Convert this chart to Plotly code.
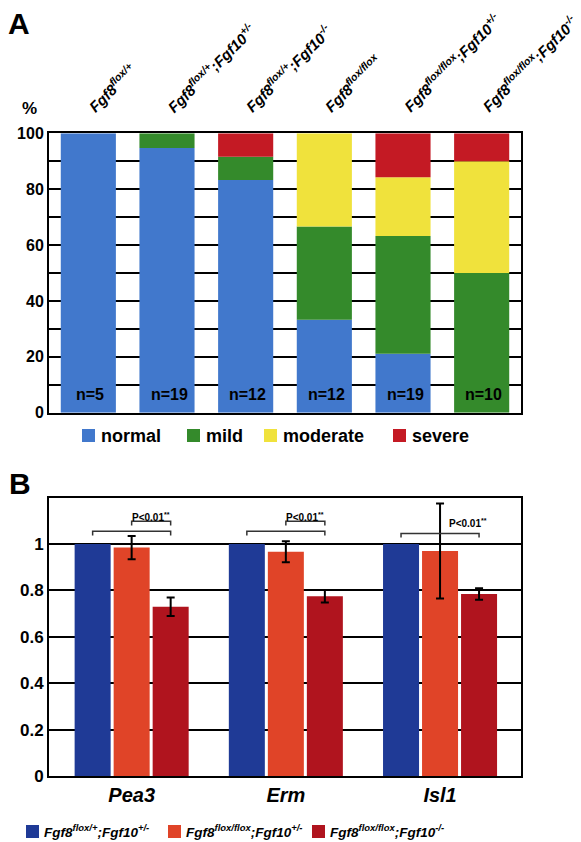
import numpy as np
import plotly.graph_objects as go

# ---------------- Panel A data ----------------
genotypes = [
    "Fgf8<sup>flox/+</sup>",
    "Fgf8<sup>flox/+</sup>;Fgf10<sup>+/-</sup>",
    "Fgf8<sup>flox/+</sup>;Fgf10<sup>-/-</sup>",
    "Fgf8<sup>flox/flox</sup>",
    "Fgf8<sup>flox/flox</sup>;Fgf10<sup>+/-</sup>",
    "Fgf8<sup>flox/flox</sup>;Fgf10<sup>-/-</sup>",
]
n_counts = [5, 19, 12, 12, 19, 10]
severity_names = ["normal", "mild", "moderate", "severe"]
normal = [100, 94.7, 83.3, 33.3, 21.1, 0]
mild = [0, 5.3, 8.3, 33.3, 42.1, 50]
moderate = [0, 0, 0, 33.4, 21.1, 40]
severe = [0, 0, 8.4, 0, 15.7, 10]
a_ticks = [0, 20, 40, 60, 80, 100]

# ---------------- Panel B data ----------------
genes = ["Pea3", "Erm", "Isl1"]
b_series = [
    "Fgf8<sup>flox/+</sup>;Fgf10<sup>+/-</sup>",
    "Fgf8<sup>flox/flox</sup>;Fgf10<sup>+/-</sup>",
    "Fgf8<sup>flox/flox</sup>;Fgf10<sup>-/-</sup>",
]
ctrl = [1.0, 1.0, 1.0]
het = [0.985, 0.967, 0.97]
het_err = [0.05, 0.045, 0.205]
ko = [0.73, 0.775, 0.785]
ko_err = [0.04, 0.027, 0.025]
b_ticks = [0, 0.2, 0.4, 0.6, 0.8, 1.0]
b_ticktext = ["0", "0.2", "0.4", "0.6", "0.8", "1"]
pval_text = "P<0.01<sup>**</sup>"

# ---------------- styles ----------------
FONT = "Liberation Sans, Arial, sans-serif"
PAGE_W, PAGE_H = 581, 842
OFF = 8  # default body margin of the html page
W, H = PAGE_W - OFF, PAGE_H - OFF
a_colors = ["#4178cc", "#348a2b", "#f0e23c", "#c41a24"]
b_colors = ["#1f3a96", "#e04428", "#b0141e"]

def px_x(p):
    return (p - OFF) / W

def px_y(p):
    return 1 - (p - OFF) / H

fig = go.Figure()

# Panel A stacked bars (stacking via cumulative base)
a_values = [normal, mild, moderate, severe]
base = np.zeros(len(genotypes))
for name, vals, col in zip(severity_names, a_values, a_colors):
    fig.add_trace(go.Bar(
        x=genotypes, y=vals, base=base.copy(), name=name,
        marker=dict(color=col, line=dict(width=0)),
        offsetgroup="A", xaxis="x", yaxis="y", showlegend=False,
    ))
    base = base + np.array(vals)

# Panel B grouped bars
b_vals = [ctrl, het, ko]
b_errs = [None, het_err, ko_err]
gx = list(range(len(genes)))
for name, vals, err, col, og in zip(b_series, b_vals, b_errs, b_colors, ["1", "2", "3"]):
    fig.add_trace(go.Bar(
        x=gx, y=vals, name=name,
        marker=dict(color=col, line=dict(width=0)),
        error_y=dict(type="data", array=err, visible=err is not None,
                     color="black", thickness=2, width=4),
        offsetgroup=og, xaxis="x2", yaxis="y2", showlegend=False,
    ))

bargap = 0.241
bargroupgap = 0.077
slot = (1 - bargap) / 3

x_dom = [px_x(49), px_x(521)]
fig.update_layout(
    width=W, height=H,
    margin=dict(l=0, r=0, t=0, b=0, autoexpand=False),
    paper_bgcolor="white", plot_bgcolor="white",
    barmode="group", bargap=bargap, bargroupgap=bargroupgap,
    font=dict(family=FONT, color="black"),
    xaxis=dict(domain=x_dom, anchor="y", showticklabels=False, showgrid=False,
               showline=True, mirror=True, linecolor="black", linewidth=2,
               range=[-0.5, 5.5], automargin=False),
    yaxis=dict(domain=[px_y(412.7), px_y(133.3)], anchor="x", range=[0, 100],
               tickmode="array", tickvals=a_ticks,
               tickfont=dict(size=16, weight="bold", family=FONT),
               showgrid=True, gridcolor="black", gridwidth=2,
               minor=dict(dtick=10, tick0=0, showgrid=True, gridcolor="black", gridwidth=2),
               showline=True, mirror=True, linecolor="black", linewidth=2,
               zeroline=False, ticks="", automargin=False),
    xaxis2=dict(domain=x_dom, anchor="y2", range=[-0.536, 2.525],
                tickmode="array", tickvals=gx,
                ticktext=[f"<b><i>{g}</i></b>" for g in genes],
                tickfont=dict(size=20, family=FONT),
                showgrid=False, showline=True, mirror=True,
                linecolor="black", linewidth=2, ticks="", automargin=False),
    yaxis2=dict(domain=[px_y(776), px_y(497.7)], anchor="x2", range=[0, 1.2],
                tickmode="array", tickvals=b_ticks, ticktext=b_ticktext,
                tickfont=dict(size=17, weight="bold", family=FONT),
                showgrid=True, gridcolor="black", gridwidth=2,
                showline=True, mirror=True, linecolor="black", linewidth=2,
                zeroline=False, ticks="", automargin=False),
)

ann = []
# Panel letters
for letter, cx, cy in [("A", 19, 24), ("B", 20, 483)]:
    ann.append(dict(text=f"<b>{letter}</b>", x=px_x(cx), y=px_y(cy), xref="paper", yref="paper",
                    xanchor="center", yanchor="middle", showarrow=False,
                    font=dict(size=30, family=FONT)))
ann.append(dict(text="<b>%</b>", x=px_x(29.5), y=px_y(108), xref="paper", yref="paper",
                xanchor="center", yanchor="middle", showarrow=False,
                font=dict(size=17, family=FONT)))

# Genotype labels (rotated)
for g in genotypes:
    ann.append(dict(text=f"<b><i>{g}</i></b>", x=g, xref="x", y=px_y(118), yref="paper",
                    xanchor="left", yanchor="bottom", xshift=-7, textangle=-45,
                    showarrow=False, font=dict(size=15, family=FONT)))

# n labels
for g, n in zip(genotypes, n_counts):
    ann.append(dict(text=f"<b>n={n}</b>", x=g, xref="x", y=0, yref="y",
                    xanchor="center", yanchor="bottom", yshift=8, xshift=2, showarrow=False,
                    font=dict(size=16, family=FONT)))

# Legend A (manual)
shapes = []
legA_sq = [82, 187, 264, 393]
for name, col, sx in zip(severity_names, a_colors, legA_sq):
    shapes.append(dict(type="rect", xref="paper", yref="paper",
                       x0=px_x(sx), x1=px_x(sx + 13), y0=px_y(442), y1=px_y(429),
                       fillcolor=col, line=dict(width=0)))
    ann.append(dict(text=f"<b>{name}</b>", x=px_x(sx + 17), y=px_y(435.5), xref="paper",
                    yref="paper", xanchor="left", yanchor="middle", showarrow=False,
                    font=dict(size=18, family=FONT)))

# Legend B (manual)
legB_sq = [26, 168, 312]
for name, col, sx in zip(b_series, b_colors, legB_sq):
    shapes.append(dict(type="rect", xref="paper", yref="paper",
                       x0=px_x(sx), x1=px_x(sx + 13), y0=px_y(838), y1=px_y(825),
                       fillcolor=col, line=dict(width=0)))
    ann.append(dict(text=f"<b><i>{name}</i></b>", x=px_x(sx + 16), y=px_y(831), xref="paper",
                    yref="paper", xanchor="left", yanchor="middle", showarrow=False,
                    font=dict(size=13.5, family=FONT)))

# Significance brackets
def bracket(xa, xb, ytop, drop):
    return dict(type="path", xref="x2", yref="y2",
                path=f"M {xa},{ytop - drop} L {xa},{ytop} L {xb},{ytop} L {xb},{ytop - drop}",
                line=dict(color="#333333", width=1.5))

for i, gname in enumerate(genes):
    c_blue, c_or, c_red = i - slot, i, i + slot
    if gname != "Isl1":
        shapes.append(bracket(c_blue, c_red, 1.055, 0.018))
        shapes.append(bracket(c_or, c_red, 1.098, 0.018))
        ann.append(dict(text=f"<b>{pval_text}</b>", x=(c_or + c_red) / 2, xref="x2",
                        y=1.118, yref="y2", xanchor="center", yanchor="middle", showarrow=False,
                        font=dict(size=10, family=FONT)))
    else:
        shapes.append(bracket(c_blue, c_red, 1.046, 0.018))
        ann.append(dict(text=f"<b>{pval_text}</b>", x=(c_or + c_red) / 2, xref="x2",
                        y=1.09, yref="y2", xanchor="center", yanchor="middle", xshift=8,
                        showarrow=False, font=dict(size=10, family=FONT)))

fig.update_layout(annotations=ann, shapes=shapes)
fig.write_html("out.html")
